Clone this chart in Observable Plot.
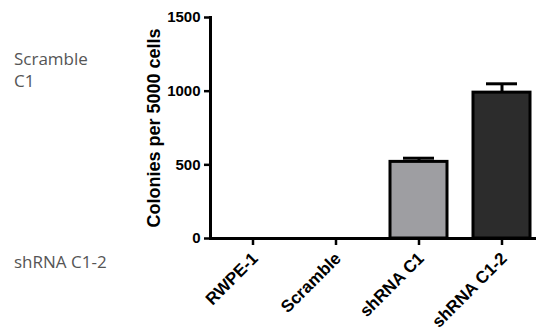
<!DOCTYPE html>
<html><head><meta charset="utf-8">
<script src="https://cdn.jsdelivr.net/npm/d3@7"></script>
<script src="https://cdn.jsdelivr.net/npm/@observablehq/plot@0.6"></script>
<style>
body{margin:0;background:#fff;}
#wrap{position:relative;width:536px;height:333px;overflow:hidden;background:#fff}
#wrap svg{position:absolute;left:0;top:0}
.note{position:absolute;left:14px;font-family:"Open Sans",sans-serif;font-size:17px;color:#555;line-height:1;white-space:nowrap}
</style></head><body><div id="wrap"></div>
<script>
const groups = ["RWPE-1", "Scramble", "shRNA C1", "shRNA C1-2"];
const colonies = [0, 0, 520, 990];
const errors = [0, 0, 25, 60];
const fills = ["#ffffff", "#ffffff", "#9e9ea2", "#2c2c2c"];
const yTicks = [0, 500, 1000, 1500];
const yTitle = "Colonies per 5000 cells";
const sideNotes = ["Scramble", "C1", "shRNA C1-2"];
const noteTops = [50, 72, 253];

const data = groups.map((g, i) => ({group: g, value: colonies[i], err: errors[i], fill: fills[i]}));
const bars = data.filter(d => d.value > 0);
const font = "'Liberation Sans', Arial, sans-serif";

const chart = Plot.plot({
  width: 536, height: 333,
  marginLeft: 210, marginRight: 0, marginTop: 17, marginBottom: 95,
  style: {fontFamily: font, fontWeight: "bold", fontSize: "15px", color: "#000", background: "transparent", overflow: "visible"},
  x: {domain: groups, range: [211.5, 543.5], paddingInner: 0.31, paddingOuter: 0.155, align: 0.5},
  y: {domain: [0, 1500]},
  marks: [
    Plot.ruleX(bars, {x: "group", y1: "value", y2: d => d.value + d.err, stroke: "#000", strokeWidth: 3}),
    Plot.tickY(bars, {x: "group", y: d => d.value + d.err, stroke: "#000", strokeWidth: 3, insetLeft: 13, insetRight: 13}),
    Plot.barY(bars, {x: "group", y: "value", fill: "fill", stroke: "#000", strokeWidth: 3}),
    Plot.axisY({ticks: yTicks, tickSize: 6, tickPadding: 4, strokeWidth: 2.5, tickFormat: d => String(d), label: null, fill: "#000", fontSize: 15}),
    Plot.axisX({tickSize: 7, strokeWidth: 2.5, tickFormat: () => "", label: null}),
    Plot.text(groups, {x: d => d, frameAnchor: "bottom", rotate: -45, textAnchor: "end", lineAnchor: "bottom", dx: 6, dy: 21, fontSize: 17, fontWeight: "bold", fill: "#000"}),
    Plot.frame({anchor: "left", stroke: "#000", strokeWidth: 3}),
    Plot.ruleY([0], {stroke: "#000", strokeWidth: 3}),
    Plot.text([yTitle], {frameAnchor: "left", rotate: -90, textAnchor: "middle", dx: -56, fontSize: 18, fontWeight: "bold", fill: "#000"})
  ]
});
const wrap = document.getElementById("wrap");
wrap.appendChild(chart);
sideNotes.forEach((t, i) => {
  const d = document.createElement("div");
  d.className = "note";
  d.textContent = t;
  d.style.top = noteTops[i] + "px";
  wrap.appendChild(d);
});
</script></body></html>
